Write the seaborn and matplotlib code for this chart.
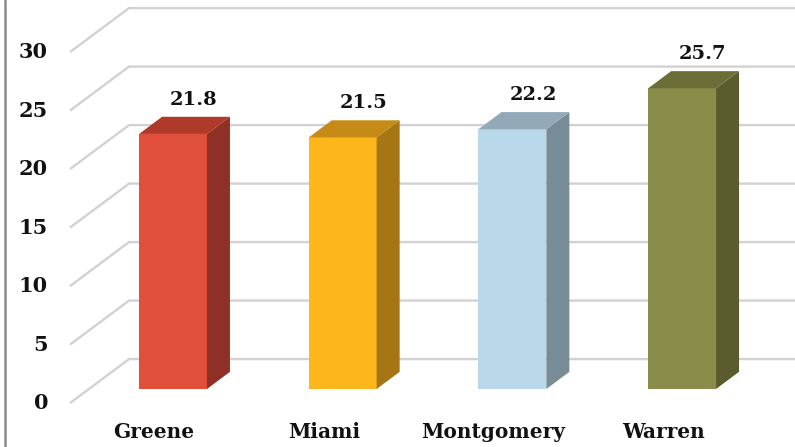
import matplotlib
matplotlib.use("Agg")
import matplotlib.pyplot as plt
from matplotlib.patches import Polygon
from matplotlib.lines import Line2D
import seaborn as sns
import pandas as pd

# County values
counties = ["Greene", "Miami", "Montgomery", "Warren"]
values = [21.8, 21.5, 22.2, 25.7]
y_ticks = [0, 5, 10, 15, 20, 25, 30]

# Face colours: front, top, side
front_colors = ["#E04F39", "#FDB71D", "#B9D8E9", "#8A8C4A"]
top_colors = ["#AE3A2A", "#C68B17", "#93A9B7", "#6C6E37"]
side_colors = ["#8F3026", "#A67614", "#788C98", "#5B5C2E"]

W, H = 795, 447
sns.set_theme(style="white")
plt.rcParams["font.family"] = ["DejaVu Serif", "DejaVu Sans"]

fig = plt.figure(figsize=(W / 100, H / 100), dpi=100)
ax = fig.add_axes([0, 0, 1, 1])

# pixel geometry of the oblique projection
x0_px, step_px = 173.0, 169.7     # first category centre and spacing
y0_px, unit_px = 389.0, 11.7      # baseline of the bar front plane and px per unit
depth_dx, depth_dy = 59.0, 44.0   # floor depth vector (front edge -> back wall)
t_bar_front, t_bar_back = 0.32, 0.71

ax.set_xlim(-x0_px / step_px, (W - x0_px) / step_px)
ax.set_ylim(-(H - y0_px) / unit_px, y0_px / unit_px)
ax.axis("off")


def proj(x, v, t):
    """Point at category position x, value v and depth t -> data coords."""
    return (x + depth_dx * (t - t_bar_front) / step_px,
            v + depth_dy * (t - t_bar_front) / unit_px)


grid_kw = dict(color="#d2d2d2", lw=1.7, zorder=1, solid_capstyle="butt")
x_wall = -0.4956
x_right = 10
for v in y_ticks:
    a = proj(x_wall, v, 0.0)
    b = proj(x_wall, v, 1.0)
    c = proj(x_right, v, 1.0)
    ax.plot([a[0], b[0], c[0]], [a[1], b[1], c[1]], **grid_kw)
    ax.text(a[0] - 22 / step_px, a[1], str(v), ha="right", va="center",
            fontsize=15, fontweight="bold", color="#111111")

df = pd.DataFrame({"county": counties, "value": values})
sns.barplot(data=df, x="county", y="value", hue="county", palette=front_colors,
            width=0.4, legend=False, ax=ax, zorder=3, linewidth=0,
            saturation=1)
ax.set_xlim(-x0_px / step_px, (W - x0_px) / step_px)
ax.set_ylim(-(H - y0_px) / unit_px, y0_px / unit_px)
ax.axis("off")

shift_x = depth_dx * (t_bar_back - t_bar_front) / step_px
shift_y = depth_dy * (t_bar_back - t_bar_front) / unit_px
for i, patch in enumerate(ax.patches[:len(values)]):
    x1 = patch.get_x()
    x2 = x1 + patch.get_width()
    top = patch.get_height()
    side = Polygon([(x2, 0), (x2 + shift_x, shift_y),
                    (x2 + shift_x, top + shift_y), (x2, top)],
                   closed=True, facecolor=side_colors[i], edgecolor="none",
                   zorder=3)
    lid = Polygon([(x1, top), (x1 + shift_x, top + shift_y),
                   (x2 + shift_x, top + shift_y), (x2, top)],
                  closed=True, facecolor=top_colors[i], edgecolor="none",
                  zorder=3)
    ax.add_patch(side)
    ax.add_patch(lid)
    cx = (x1 + x2) / 2
    ax.text(cx + shift_x * 0.9, top + shift_y + 17 / unit_px, f"{values[i]:.1f}",
            ha="center", va="center", fontsize=14, fontweight="bold",
            color="#111111", zorder=5)
    lx, ly = proj(cx, 0, 0.0)
    ax.text(lx, ly - 29 / unit_px, counties[i], ha="center", va="center",
            fontsize=14.5, fontweight="bold", color="#111111")

# chart border on the left
fig.add_artist(Line2D([5 / W, 5 / W], [0, 1], color="#8c8c8c", lw=1.8,
                      transform=fig.transFigure))

fig.savefig("out.png", dpi=100)
